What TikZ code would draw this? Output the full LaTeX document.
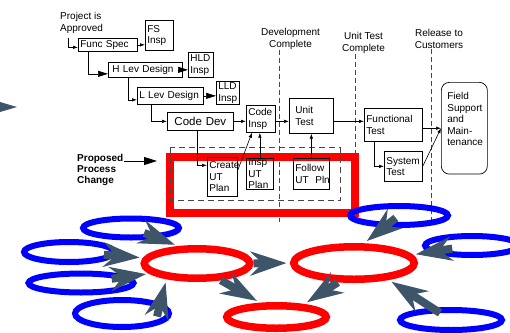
\documentclass[tikz,border=0pt]{standalone}
\usepackage{fontspec}
\setmainfont{Liberation Sans}
\usetikzlibrary{arrows.meta,shapes.geometric,calc}
\definecolor{GoalBlue}{RGB}{0,0,255}
\definecolor{HubRed}{RGB}{255,0,0}
\definecolor{ArrowSlate}{RGB}{61,84,105}
\definecolor{MileGray}{RGB}{70,70,70}

\begin{document}
\begin{tikzpicture}[
    x=1pt, y=-1pt,
    box/.style={draw, line width=0.7pt, anchor=north west, align=left,
                inner xsep=2pt, inner ysep=0pt,
                font=\fontsize{10}{11.5}\selectfont},
    note/.style={inner sep=0pt, font=\fontsize{10}{12}\selectfont},
    arr/.style={-{Latex[length=5pt,width=3.5pt]}, line width=0.6pt},
    bigarr/.style={-{Triangle[length=10pt,width=6pt]}, line width=0.6pt},
    pointer/.style={-{Triangle[length=13pt,width=8pt]}, line width=0.8pt},
    milestone/.style={draw=MileGray, line width=0.8pt, dash pattern=on 5pt off 3pt},
    planbox/.style={draw=MileGray, line width=0.7pt, dash pattern=on 6pt off 4pt},
    goal/.style={ellipse, draw=GoalBlue, line width=6pt, inner sep=0pt},
    hub/.style={ellipse, draw=HubRed, line width=7.5pt, inner sep=0pt},
    fat/.style={-{Stealth[length=36pt,width=24pt,inset=12pt]},
                draw=ArrowSlate, line width=8pt, shorten >=3.5pt}
]
    \useasboundingbox (0,0) rectangle (510,332);

    % milestones
    \node[note, align=center, anchor=north] (dev) at (290.5,28) {Development\\Complete};
    \node[note, align=center, anchor=north] (utc) at (363.5,32) {Unit Test\\Complete};
    \node[note, align=center, anchor=north] (rel) at (439,29) {Release to\\Customers};
    \coordinate (mbot) at (0,222);
    \foreach \m/\dx in {dev/-11.5, utc/-8.5, rel/-8}
        \draw[milestone] ([xshift=\dx pt]\m.south) -- ([xshift=\dx pt]\m.south |- mbot);

    % cascade
    \node[note, align=left, anchor=north west] (appr) at (60,12) {Project is\\Approved};
    \node[box, text width=55pt, minimum height=13pt] (fspec) at (78,38) {Func Spec};
    \node[box, text width=24pt, minimum height=30pt] (fsinsp) at (145,20) {FS\\Insp};
    \node[box, text width=66pt, minimum height=15pt, inner xsep=4pt] (hld) at (108,62) {H Lev Design};
    \node[box, text width=21pt, minimum height=25pt] (hldinsp) at (188,52) {HLD\\Insp};
    \node[box, text width=62pt, minimum height=17pt] (lld) at (137,87) {L Lev Design};
    \node[box, text width=19pt, minimum height=23pt] (lldinsp) at (216,81) {LLD\\Insp};
    \node[box, text width=62pt, minimum height=18pt, align=center,
          font=\fontsize{11.5}{13}\selectfont] (cdev) at (167,112) {Code Dev};
    \node[box, text width=25pt, minimum height=27pt] (cinsp) at (246,105) {Code\\Insp};
    \node[box, text width=32pt, minimum height=35pt, inner xsep=6pt] (utest) at (289,98) {Unit\\Test};
    \node[box, text width=54pt, minimum height=33pt] (ftest) at (364,108) {Functional\\Test};
    \node[box, text width=34pt, minimum height=30pt] (stest) at (384,151) {System\\Test};
    \node[box, rounded corners=8pt, text width=34pt, inner xsep=6pt, inner ysep=10pt,
          text depth=64.5pt] (field) at (441,82) {Field\\Support\\and\\Main-\\tenance};

    % proposed change
    \node[draw=HubRed, line width=8pt, minimum width=185pt, minimum height=56pt,
          anchor=north west, inner sep=0pt] (chg) at (166,153) {};
    \draw[planbox] (170,147.5) rectangle (340,200);
    \node[box, text width=26pt, minimum height=39pt] (cutp) at (207,157) {Create\\UT\\Plan};
    \node[box, text width=23pt, minimum height=31pt] (iutp) at (246,158) {Insp\\UT\\Plan};
    \node[box, text width=32pt, minimum height=31pt] (fup) at (293,158) {Follow\\UT~~Pln};
    \node[note, align=left, anchor=north west,
          font=\bfseries\fontsize{10}{11}\selectfont] (prop) at (77,154.5) {Proposed\\Process\\Change};
    \coordinate (propout) at ([yshift=-6.5pt]prop.north east);
    \draw[pointer, shorten >=9pt] (propout) -- (propout -| chg.west);

    % flow
    \draw[arr] ([xshift=8pt,yshift=-4pt]appr.south west) |- ([yshift=-2.5pt]fspec.west);
    \draw[arr] (fspec.east) -- (fspec.east -| fsinsp.west);
    \draw[bigarr] ([xshift=10pt]fspec.south west) |- ([yshift=-4pt]hld.west);
    \draw[bigarr] (hld.east) -- (hld.east -| hldinsp.west);
    \draw[arr] ([xshift=20pt]hld.south west) |- ([yshift=-4pt]lld.west);
    \draw[bigarr] (lld.east) -- (lld.east -| lldinsp.west);
    \draw[arr] ([xshift=14pt]lld.south west) |- (cdev.west);
    \draw[arr] (cdev.east) -- (cdev.east -| cinsp.west);
    \draw[arr] (cinsp.east |- cdev.east) -- (utest.west |- cdev.east);
    \draw[arr] (utest.east |- cdev.east) -- (ftest.west |- cdev.east);
    \draw[arr] (ftest.east |- field.west) -- (field.west);
    \draw[arr] ([xshift=10pt]ftest.south west) |- (stest.west);
    \draw[arr] (stest.east) -- (field.west);
    \draw[arr] ([xshift=30pt]cdev.south west) |- ([yshift=11.5pt]cutp.west);
    \draw[arr] ([yshift=6.5pt]cutp.east) -- ([xshift=6pt]cinsp.south west);
    \draw[arr] (iutp.north) -- (iutp.north |- cinsp.south);
    \draw[arr] (fup.north) -- (fup.north |- utest.south);

    % network
    \node[hub, minimum width=105.5pt, minimum height=29.5pt] (r1) at (197,263.5) {};
    \node[hub, minimum width=99.5pt, minimum height=22.5pt] (r2) at (276.5,317) {};
    \node[hub, minimum width=120.5pt, minimum height=32.5pt] (r3) at (354,263) {};
    \node[goal, minimum width=96pt, minimum height=19pt] (b1) at (131,228) {};
    \node[goal, minimum width=90pt, minimum height=20pt] (b2) at (69,252) {};
    \node[goal, minimum width=105pt, minimum height=19pt] (b3) at (81,283) {};
    \node[goal, minimum width=94pt, minimum height=27pt] (b4) at (122,313.5) {};
    \node[goal, minimum width=98pt, minimum height=19pt] (b5) at (399,215.5) {};
    \node[goal, minimum width=94pt, minimum height=19pt] (b6) at (472,245.5) {};
    \node[goal, minimum width=102pt, minimum height=20pt] (b7) at (451,320) {};

    \draw[fat, shorten <=14pt] (b1.center) -- (r1.137);
    \draw[fat, shorten <=35pt] (b2.center) -- (r1.174);
    \draw[fat, shorten <=31pt] (b3.center) -- (r1.192);
    \draw[fat] ($(b4.center)+(35,3)$) -- (r1.207);
    \draw[fat] (r1.-35) -- (r2.139);
    \draw[fat] (r1.east) -- (r3.west);
    \draw[fat] (r3.230) -- (r2.25);
    \draw[fat, shorten <=4pt] (b5.center) -- (r3.63);
    \draw[fat, shorten <=20pt] (b6.center) -- (r3.8);
    \draw[fat, shorten <=13pt] (b7.center) -- (r3.-26);
    \fill[ArrowSlate] (0,102) -- (17,107) -- (0,112) -- cycle;
\end{tikzpicture}
\end{document}
